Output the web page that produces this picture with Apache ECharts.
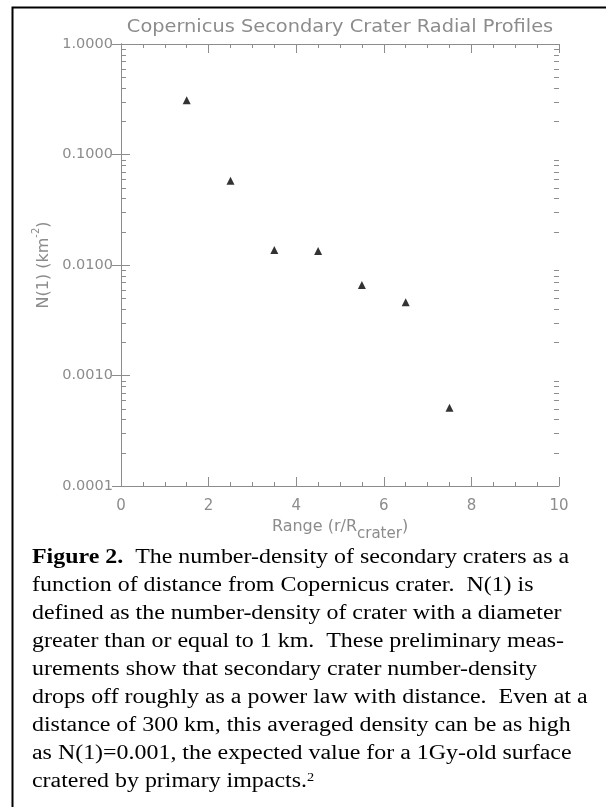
<!DOCTYPE html>
<html>
<head>
<meta charset="utf-8">
<script src="https://cdn.jsdelivr.net/npm/echarts@6/dist/echarts.min.js"></script>
<style>
  html, body { margin: 0; padding: 0; background: #fff; }
  #main { width: 606px; height: 807px; }
</style>
</head>
<body>
<div id="main"></div>
<script>
// data
var ranges = [1.5, 2.5, 3.5, 4.5, 5.5, 6.5, 7.5];
var densities = [0.31, 0.058, 0.0137, 0.0134, 0.0066, 0.0046, 0.00051];

// log axis minor ticks (2..9 in each decade)
var minorLogTicks = [];
[0.0001, 0.001, 0.01, 0.1].forEach(function (d) {
  for (var k = 2; k <= 9; k++) minorLogTicks.push(+(d * k).toPrecision(3));
});

var titleText = 'Copernicus Secondary Crater Radial Profiles';

var captionLines = [
  '{b|Figure 2.}  The number-density of secondary craters as a',
  'function of distance from Copernicus crater.  N(1) is',
  'defined as the number-density of crater with a diameter',
  'greater than or equal to 1 km.  These preliminary meas-',
  'urements show that secondary crater number-density',
  'drops off roughly as a power law with distance.  Even at a',
  'distance of 300 km, this averaged density can be as high',
  'as N(1)=0.001, the expected value for a 1Gy-old surface',
  'cratered by primary impacts.{sup|2}'
];

var gray = '#8c8c8c';
var plotFont = 'DejaVu Sans';

var myChart = echarts.init(document.getElementById('main'));

// the source figure is a bit stretched sideways, so text is widened a little
var caption = captionLines.map(function (line, i) {
  return {
    type: 'text',
    x: 32,
    y: 558 + i * 28,
    scaleX: 1.196,
    silent: true,
    style: {
      text: line,
      x: 0, y: 0,
      align: 'left',
      verticalAlign: 'middle',
      fontFamily: 'Liberation Serif',
      fontSize: 20,
      fill: '#000',
      rich: {
        b: { fontFamily: 'Liberation Serif', fontSize: 20, fontWeight: 'bold', fill: '#000' },
        sup: { fontFamily: 'Liberation Serif', fontSize: 12, lineHeight: 12, verticalAlign: 'top', fill: '#000' }
      }
    }
  };
});

var tickAxis = {
  min: 0, max: 10, interval: 2,
  axisLine: { show: true, lineStyle: { color: gray, width: 1 } },
  axisTick: { show: true, inside: true, length: 9, lineStyle: { color: gray } },
  minorTick: { show: true, splitNumber: 4, length: 4, lineStyle: { color: gray } },
  splitLine: { show: false }
};

var logAxis = {
  type: 'log',
  logBase: 10,
  min: 0.0001,
  max: 1,
  interval: 1,
  axisLine: { show: true, lineStyle: { color: gray, width: 1 } },
  axisTick: { show: true, inside: true, length: 9, interval: 0, lineStyle: { color: gray } },
  splitLine: { show: false }
};

var option = {
  animation: false,
  backgroundColor: '#fff',
  grid: { left: 121, right: 47, top: 44, bottom: 321 },
  xAxis: [
    Object.assign({}, tickAxis, {
      type: 'value',
      position: 'bottom',
      axisLabel: { color: gray, fontFamily: plotFont, fontSize: 15, margin: 13 },
      name: '{a|Range (r/R}{sub|crater}{a|)}',
      nameLocation: 'middle',
      nameGap: 26,
      nameTextStyle: {
        rich: {
          a: { fontFamily: plotFont, fontSize: 16, lineHeight: 30, color: gray },
          sub: { fontFamily: plotFont, fontSize: 15, lineHeight: 14, verticalAlign: 'bottom', color: gray }
        }
      }
    }),
    Object.assign({}, tickAxis, {
      type: 'value',
      position: 'top',
      axisLabel: { show: false }
    })
  ],
  yAxis: [
    Object.assign({}, logAxis, {
      position: 'left',
      axisLabel: {
        color: gray, fontFamily: plotFont, fontSize: 14.5, margin: 8, interval: 0,
        formatter: function (v) { return v.toFixed(4); }
      },
      name: '{a|N(1) (km}{sup|-2}{a|)}',
      nameLocation: 'middle',
      nameGap: 64,
      nameTextStyle: {
        rich: {
          a: { fontFamily: plotFont, fontSize: 16, lineHeight: 24, color: gray },
          sup: { fontFamily: plotFont, fontSize: 10, lineHeight: 10, verticalAlign: 'top', color: gray }
        }
      }
    }),
    Object.assign({}, logAxis, {
      position: 'right',
      axisLabel: { show: false }
    })
  ],
  graphic: [
    {
      type: 'rect',
      left: 10, top: 5,
      shape: { width: 700, height: 900 },
      style: { fill: 'none', stroke: '#000', lineWidth: 2 },
      silent: true
    },
    {
      type: 'text',
      x: 340,
      y: 28,
      scaleX: 1.14,
      silent: true,
      style: {
        text: titleText,
        x: 0, y: 0,
        align: 'center',
        verticalAlign: 'middle',
        fontFamily: plotFont,
        fontSize: 17,
        fill: gray
      }
    }
  ].concat(caption),
  series: [
    {
      type: 'scatter',
      symbol: 'triangle',
      symbolSize: 8,
      itemStyle: { color: '#000' },
      data: ranges.map(function (r, i) { return [r, densities[i]]; })
    },
    {
      // minor ticks of the log axes, placed through the axis scale
      type: 'custom',
      silent: true,
      clip: false,
      data: minorLogTicks.map(function (v) { return [0, v]; }),
      renderItem: function (params, api) {
        var v = api.value(1);
        var pl = api.coord([0, v]);
        var pr = api.coord([10, v]);
        var y = Math.round(pl[1]) + 0.5;
        return {
          type: 'group',
          children: [
            { type: 'line', shape: { x1: pl[0], y1: y, x2: pl[0] + 5, y2: y }, style: { stroke: gray, lineWidth: 1 } },
            { type: 'line', shape: { x1: pr[0] - 5, y1: y, x2: pr[0], y2: y }, style: { stroke: gray, lineWidth: 1 } }
          ]
        };
      }
    }
  ]
};

myChart.setOption(option);
</script>
</body>
</html>
